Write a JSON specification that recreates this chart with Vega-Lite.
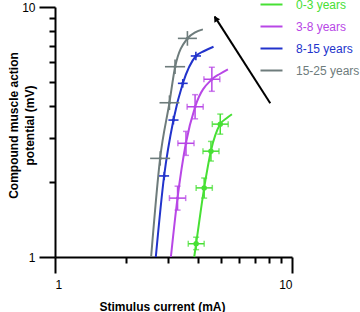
{
  "$schema": "https://vega.github.io/schema/vega-lite/v6.json",
  "width": 237,
  "height": 250,
  "autosize": "none",
  "padding": {"left": 55, "top": 7, "right": 68, "bottom": 55},
  "config": {
    "view": {"stroke": null},
    "font": "Liberation Sans",
    "axis": {
      "grid": false,
      "domainColor": "black",
      "domainWidth": 2,
      "tickColor": "black",
      "tickWidth": 2,
      "labelFontSize": 12,
      "labelColor": "black",
      "titleFontSize": 12,
      "titleFontWeight": "bold",
      "titleColor": "black"
    }
  },
  "resolve": {"axis": {"x": "independent", "y": "independent"}},
  "datasets": {
    "curve": [
      {"series": "0-3 years", "o": 1, "x": 3.867, "y": 1.0},
      {"series": "0-3 years", "o": 2, "x": 3.942, "y": 1.134},
      {"series": "0-3 years", "o": 3, "x": 4.262, "y": 1.893},
      {"series": "0-3 years", "o": 4, "x": 4.548, "y": 2.655},
      {"series": "0-3 years", "o": 5, "x": 4.979, "y": 3.404},
      {"series": "0-3 years", "o": 6, "x": 5.279, "y": 3.581},
      {"series": "0-3 years", "o": 7, "x": 5.579, "y": 3.723},
      {"series": "3-8 years", "o": 1, "x": 3.083, "y": 1.0},
      {"series": "3-8 years", "o": 2, "x": 3.287, "y": 1.717},
      {"series": "3-8 years", "o": 3, "x": 3.566, "y": 2.85},
      {"series": "3-8 years", "o": 4, "x": 3.904, "y": 3.993},
      {"series": "3-8 years", "o": 5, "x": 4.592, "y": 5.138},
      {"series": "3-8 years", "o": 6, "x": 4.955, "y": 5.395},
      {"series": "3-8 years", "o": 7, "x": 5.365, "y": 5.633},
      {"series": "8-15 years", "o": 1, "x": 2.663, "y": 1.0},
      {"series": "8-15 years", "o": 2, "x": 2.887, "y": 2.109},
      {"series": "8-15 years", "o": 3, "x": 3.16, "y": 3.532},
      {"series": "8-15 years", "o": 4, "x": 3.463, "y": 4.953},
      {"series": "8-15 years", "o": 5, "x": 3.93, "y": 6.368},
      {"series": "8-15 years", "o": 6, "x": 4.262, "y": 6.668},
      {"series": "8-15 years", "o": 7, "x": 4.665, "y": 6.937},
      {"series": "15-25 years", "o": 1, "x": 2.544, "y": 1.0},
      {"series": "15-25 years", "o": 2, "x": 2.777, "y": 2.482},
      {"series": "15-25 years", "o": 3, "x": 3.04, "y": 4.142},
      {"series": "15-25 years", "o": 4, "x": 3.214, "y": 5.77},
      {"series": "15-25 years", "o": 5, "x": 3.622, "y": 7.49},
      {"series": "15-25 years", "o": 6, "x": 3.904, "y": 7.92},
      {"series": "15-25 years", "o": 7, "x": 4.207, "y": 8.14}
    ],
    "pts": [
      {"series": "0-3 years", "x": 3.94, "xlo": 3.65, "xhi": 4.26, "y": 1.13, "ylo": 1.07, "yhi": 1.2},
      {"series": "0-3 years", "x": 4.26, "xlo": 3.94, "xhi": 4.61, "y": 1.89, "ylo": 1.72, "yhi": 2.07},
      {"series": "0-3 years", "x": 4.55, "xlo": 4.21, "xhi": 4.92, "y": 2.65, "ylo": 2.42, "yhi": 2.9},
      {"series": "0-3 years", "x": 4.98, "xlo": 4.61, "xhi": 5.38, "y": 3.4, "ylo": 3.1, "yhi": 3.73},
      {"series": "3-8 years", "x": 3.29, "xlo": 3.04, "xhi": 3.56, "y": 1.72, "ylo": 1.54, "yhi": 1.92},
      {"series": "3-8 years", "x": 3.57, "xlo": 3.3, "xhi": 3.86, "y": 2.85, "ylo": 2.55, "yhi": 3.18},
      {"series": "3-8 years", "x": 3.9, "xlo": 3.61, "xhi": 4.22, "y": 3.99, "ylo": 3.57, "yhi": 4.46},
      {"series": "3-8 years", "x": 4.59, "xlo": 4.25, "xhi": 4.96, "y": 5.14, "ylo": 4.6, "yhi": 5.74},
      {"series": "8-15 years", "x": 2.89, "xlo": 2.75, "xhi": 3.03, "y": 2.11, "ylo": 2.03, "yhi": 2.19},
      {"series": "8-15 years", "x": 3.16, "xlo": 3.01, "xhi": 3.32, "y": 3.53, "ylo": 3.39, "yhi": 3.67},
      {"series": "8-15 years", "x": 3.46, "xlo": 3.3, "xhi": 3.63, "y": 4.95, "ylo": 4.76, "yhi": 5.15},
      {"series": "8-15 years", "x": 3.93, "xlo": 3.74, "xhi": 4.13, "y": 6.37, "ylo": 6.12, "yhi": 6.62},
      {"series": "15-25 years", "x": 2.78, "xlo": 2.52, "xhi": 3.06, "y": 2.48, "ylo": 2.32, "yhi": 2.65},
      {"series": "15-25 years", "x": 3.04, "xlo": 2.76, "xhi": 3.35, "y": 4.14, "ylo": 3.87, "yhi": 4.43},
      {"series": "15-25 years", "x": 3.21, "xlo": 2.91, "xhi": 3.54, "y": 5.77, "ylo": 5.39, "yhi": 6.17},
      {"series": "15-25 years", "x": 3.62, "xlo": 3.3, "xhi": 3.97, "y": 7.49, "ylo": 7.0, "yhi": 8.01}
    ],
    "arrow": [
      {"x": 8.095, "y": 4.12, "x2": 4.72, "y2": 9.15}
    ],
    "head": [
      {"x": 4.765, "y": 9.0}
    ]
  },
  "layer": [
    {
      "data": {"name": "curve"},
      "mark": {"type": "line", "interpolate": "monotone", "strokeWidth": 2},
      "encoding": {
        "x": {
          "field": "x", "type": "quantitative",
          "scale": {"type": "log", "domain": [1, 10], "nice": false},
          "axis": {
            "values": [1, 2, 3, 4, 5, 6, 7, 8, 9, 10],
            "labelExpr": "datum.value == 1 ? '1' : datum.value == 10 ? '10' : ''",
            "tickSize": {"condition": {"test": "datum.value == 1 || datum.value == 10", "value": 16}, "value": 6},
            "labelPadding": 6,
            "title": "Stimulus current (mA)",
            "titleX": 107,
            "titleY": 44
          }
        },
        "y": {
          "field": "y", "type": "quantitative",
          "scale": {"type": "log", "domain": [1, 10], "nice": false},
          "axis": {
            "values": [1, 2, 3, 4, 5, 6, 7, 8, 9, 10],
            "labelExpr": "datum.value == 1 ? '1' : datum.value == 10 ? '10' : ''",
            "tickSize": {"condition": {"test": "datum.value == 1 || datum.value == 10", "value": 16}, "value": 6},
            "labelPadding": 4,
            "title": ["Compound muscle action", "potential (mV)"],
            "titleLineHeight": 16,
            "titleX": -35,
            "titleY": 118
          }
        },
        "order": {"field": "o"},
        "color": {
          "field": "series", "type": "nominal",
          "scale": {
            "domain": ["0-3 years", "3-8 years", "8-15 years", "15-25 years"],
            "range": ["#47e034", "#b847e6", "#2233cc", "#6e7c7c"]
          },
          "legend": {
            "orient": "none",
            "legendX": 210,
            "legendY": -9,
            "title": null,
            "padding": 0,
            "symbolType": "M-2,0H2",
            "symbolSize": 121,
            "symbolStrokeWidth": 2,
            "labelFontSize": 12,
            "labelOffset": 18,
            "rowPadding": 9,
            "encode": {"labels": {"update": {"fill": {"scale": "color", "field": "value"}}}}
          }
        }
      }
    },
    {
      "data": {"name": "pts"},
      "transform": [{"filter": "datum.series == '0-3 years' || datum.series == '3-8 years'"}],
      "mark": {"type": "errorbar", "ticks": {"size": 6, "thickness": 1.5}, "thickness": 1.5},
      "encoding": {
        "x": {"field": "xlo", "type": "quantitative", "axis": null},
        "x2": {"field": "xhi"},
        "y": {"field": "y", "type": "quantitative", "axis": null},
        "color": {"field": "series", "type": "nominal", "legend": null}
      }
    },
    {
      "data": {"name": "pts"},
      "transform": [{"filter": "datum.series == '0-3 years' || datum.series == '3-8 years'"}],
      "mark": {"type": "errorbar", "ticks": {"size": 6, "thickness": 1.5}, "thickness": 1.5},
      "encoding": {
        "y": {"field": "ylo", "type": "quantitative", "axis": null},
        "y2": {"field": "yhi"},
        "x": {"field": "x", "type": "quantitative", "axis": null},
        "color": {"field": "series", "type": "nominal", "legend": null}
      }
    },
    {
      "data": {"name": "pts"},
      "transform": [{"filter": "datum.series == '8-15 years' || datum.series == '15-25 years'"}],
      "mark": {"type": "rule", "strokeWidth": 1.6},
      "encoding": {
        "x": {"field": "xlo", "type": "quantitative", "axis": null},
        "x2": {"field": "xhi"},
        "y": {"field": "y", "type": "quantitative", "axis": null},
        "color": {"field": "series", "type": "nominal", "legend": null}
      }
    },
    {
      "data": {"name": "pts"},
      "transform": [{"filter": "datum.series == '8-15 years' || datum.series == '15-25 years'"}],
      "mark": {"type": "rule", "strokeWidth": 1.6},
      "encoding": {
        "y": {"field": "ylo", "type": "quantitative", "axis": null},
        "y2": {"field": "yhi"},
        "x": {"field": "x", "type": "quantitative", "axis": null},
        "color": {"field": "series", "type": "nominal", "legend": null}
      }
    },
    {
      "data": {"name": "pts"},
      "transform": [{"filter": "datum.series == '0-3 years'"}],
      "mark": {"type": "circle", "opacity": 1, "size": 30},
      "encoding": {
        "x": {"field": "x", "type": "quantitative", "axis": null},
        "y": {"field": "y", "type": "quantitative", "axis": null},
        "color": {"field": "series", "type": "nominal", "legend": null}
      }
    },
    {
      "data": {"name": "pts"},
      "transform": [{"filter": "datum.series != '0-3 years'"}],
      "mark": {"type": "circle", "opacity": 1, "size": 10},
      "encoding": {
        "x": {"field": "x", "type": "quantitative", "axis": null},
        "y": {"field": "y", "type": "quantitative", "axis": null},
        "color": {"field": "series", "type": "nominal", "legend": null}
      }
    },
    {
      "data": {"name": "arrow"},
      "mark": {"type": "rule", "color": "black", "strokeWidth": 2},
      "encoding": {
        "x": {"field": "x", "type": "quantitative", "axis": null},
        "y": {"field": "y", "type": "quantitative", "axis": null},
        "x2": {"field": "x2"},
        "y2": {"field": "y2"}
      }
    },
    {
      "data": {"name": "head"},
      "mark": {"type": "point", "shape": "triangle-up", "filled": true, "color": "black", "opacity": 1, "size": 45, "angle": 328},
      "encoding": {
        "x": {"field": "x", "type": "quantitative", "axis": null},
        "y": {"field": "y", "type": "quantitative", "axis": null}
      }
    }
  ]
}
